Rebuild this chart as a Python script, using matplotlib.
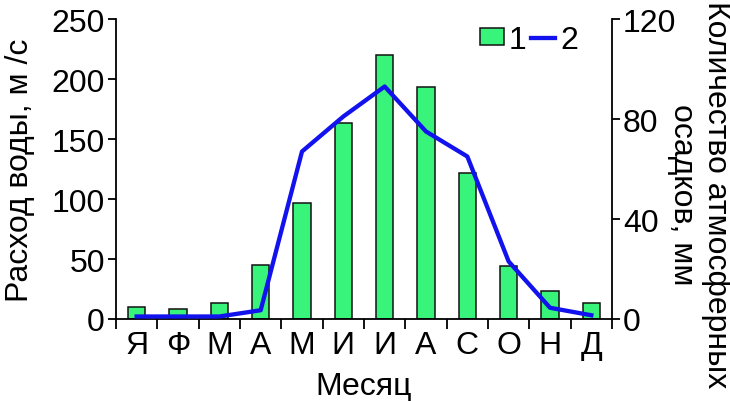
import matplotlib.pyplot as plt
import numpy as np

plt.rcParams['font.family'] = ['Liberation Sans', 'DejaVu Sans']

months = ["Я", "Ф", "М", "А", "М", "И", "И", "А", "С", "О", "Н", "Д"]
discharge = [10, 8, 13, 45, 97, 163, 220, 193, 122, 44, 23, 13]
precip = [1, 1, 1, 3.5, 67, 81, 93, 75, 65, 23, 4.5, 1.5]

x = np.arange(len(months))
fs = 23

fig = plt.figure(figsize=(7.3, 4.02), dpi=100)
ax = fig.add_axes([116/730, 82/402, 496/730, 300/402])
ax2 = ax.twinx()

bars = ax.bar(x, discharge, width=0.42, color="#38f47a", edgecolor="#111111", linewidth=1.1, label="1")
line, = ax2.plot(x, precip, color="#1212ee", linewidth=3.1, label="2")

ax.set_xlim(-0.5, 11.5)
ax.set_ylim(0, 250)
ax2.set_ylim(0, 120)
ax.set_yticks([0, 50, 100, 150, 200, 250])
ax2.set_yticks([0, 40, 80, 120])

ax.set_xticks(np.arange(-0.5, 12, 1))
ax.set_xticklabels([])
ax.set_xticks(x, minor=True)
ax.set_xticklabels(months, minor=True)
ax.tick_params(axis="x", which="major", direction="out", length=7, width=1.3)
ax.tick_params(axis="x", which="minor", length=0, labelsize=fs, pad=8)
ax.tick_params(axis="y", direction="out", length=6, width=1.3, labelsize=fs, pad=2)
ax2.tick_params(axis="y", direction="out", length=6, width=1.3, labelsize=fs, pad=2)

for a in (ax, ax2):
    a.spines["top"].set_visible(False)
    for s in a.spines.values():
        s.set_linewidth(1.3)
ax.spines["right"].set_visible(False)
ax2.spines["left"].set_visible(False)
ax2.spines["bottom"].set_visible(False)

ax.set_xlabel("Месяц", fontsize=fs, labelpad=8)
ax.set_ylabel("Расход воды, м /с", fontsize=fs, labelpad=12)
# right axis label, two lines placed by hand like in the original
fig.text(716/730, 1 - 195/402, "Количество атмосферных", fontsize=fs,
         rotation=-90, ha="center", va="center")
fig.text(682/730, 1 - 195/402, "осадков, мм", fontsize=fs,
         rotation=-90, ha="center", va="center")

fig.legend([bars, line], ["1", "2"], loc="upper right", bbox_to_anchor=(578/730, 1 - 26/402),
           ncol=2, frameon=False, fontsize=fs, handlelength=0.75, handleheight=0.45,
           handletextpad=0.15, columnspacing=0.15, borderaxespad=0, borderpad=0)

fig.savefig("out.png", dpi=100)
